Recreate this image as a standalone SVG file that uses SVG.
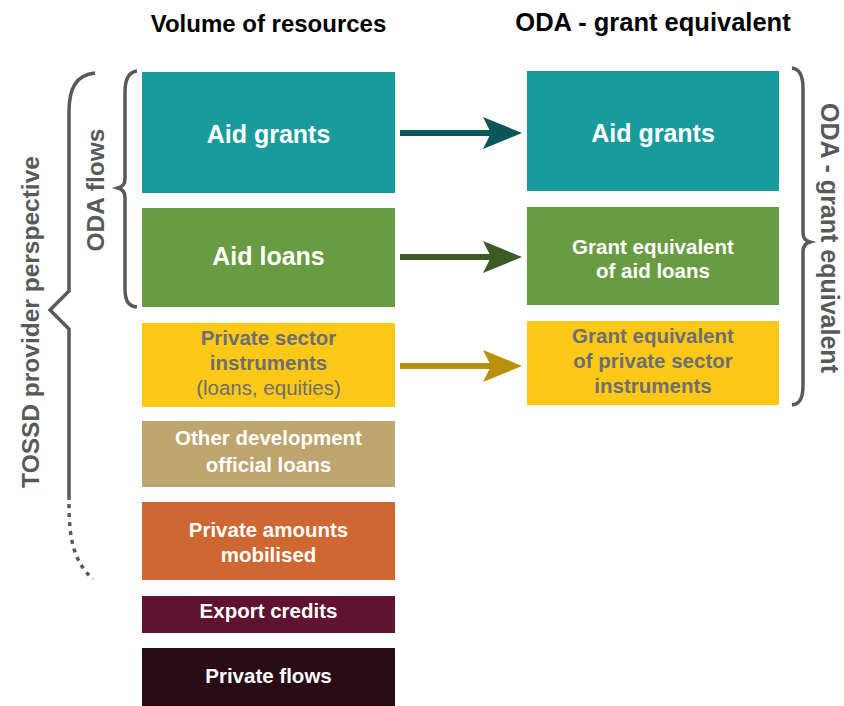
<svg xmlns="http://www.w3.org/2000/svg" width="844" height="706" viewBox="0 0 844 706">
<style>
  .hdr { font-family: "Liberation Sans", Arial, sans-serif; font-weight: bold; fill: #000; text-anchor: middle; }
  .big { font-family: "Liberation Sans", Arial, sans-serif; font-weight: bold; font-size: 25px; fill: #fff; text-anchor: middle; }
  .mid { font-family: "Liberation Sans", Arial, sans-serif; font-weight: bold; font-size: 20.5px; fill: #fff; text-anchor: middle; }
  .gray { fill: #6d6e71; }
  .reg { font-family: "Liberation Sans", Arial, sans-serif; font-weight: normal; font-size: 20.5px; fill: #6d6e71; text-anchor: middle; }
  .side { font-family: "Liberation Sans", Arial, sans-serif; font-weight: bold; fill: #58595b; text-anchor: middle; }
  .brace { fill: none; stroke: #58595b; stroke-width: 3.5; stroke-linejoin: miter; }
</style>

<text class="hdr" x="268.5" y="32" font-size="24">Volume of resources</text>
<text class="hdr" x="653" y="31" font-size="25.5">ODA - grant equivalent</text>

<g id="brace-tossd">
  <path class="brace" d="M95,73 C76,75 69,88 69,112 L69,291 L50,310 L69,329 L69,500" stroke-width="4"/>
  <path class="brace" d="M69,504 C69,540 74,562 93,579" stroke-width="4" stroke-dasharray="4,5"/>
  <text class="side" font-size="24.5" transform="translate(39,322) rotate(-90)">TOSSD provider perspective</text>
</g>

<g id="brace-oda">
  <path class="brace" d="M137,71 C128,72 125,80 125,92 L125,179 Q125,186 118,188 Q125,190 125,197 L125,288 C125,301 128,306 137,307"/>
  <text class="side" font-size="24.5" transform="translate(104,190) rotate(-90)">ODA flows</text>
</g>

<g id="brace-ge">
  <path class="brace" d="M792,68 C800,69 803,76 803,88 L803,233 Q803,240 810,242 Q803,244 803,251 L803,385 C803,398 800,404 792,405"/>
  <text class="side" font-size="25" transform="translate(821,238) rotate(90)">ODA - grant equivalent</text>
</g>

<g id="left-aid-grants">
  <rect x="142" y="72" width="253" height="121" fill="#1a9b9b"/>
  <text class="big" x="268.5" y="143">Aid grants</text>
</g>
<g id="left-aid-loans">
  <rect x="142" y="208" width="253" height="99" fill="#689b42"/>
  <text class="big" x="268.5" y="265">Aid loans</text>
</g>
<g id="left-private-sector">
  <rect x="142" y="323" width="253" height="84" fill="#fec916"/>
  <text class="mid gray" x="268.5" y="345">Private sector</text>
  <text class="mid gray" x="268.5" y="370">instruments</text>
  <text class="reg" x="268.5" y="395">(loans, equities)</text>
</g>
<g id="left-other-dev">
  <rect x="142" y="421" width="253" height="66" fill="#bea46e"/>
  <text class="mid" x="268.5" y="445">Other development</text>
  <text class="mid" x="268.5" y="472">official loans</text>
</g>
<g id="left-mobilised">
  <rect x="142" y="502" width="253" height="78" fill="#cf6733"/>
  <text class="mid" x="268.5" y="537">Private amounts</text>
  <text class="mid" x="268.5" y="562">mobilised</text>
</g>
<g id="left-export">
  <rect x="142" y="596" width="253" height="37" fill="#5f1331"/>
  <text class="mid" x="268.5" y="618">Export credits</text>
</g>
<g id="left-private-flows">
  <rect x="142" y="648" width="253" height="60" fill="#2a0c17"/>
  <text class="mid" x="268.5" y="683">Private flows</text>
</g>

<g id="right-aid-grants">
  <rect x="527" y="71" width="252" height="120" fill="#1a9b9b"/>
  <text class="big" x="653" y="142">Aid grants</text>
</g>
<g id="right-ge-loans">
  <rect x="527" y="207" width="252" height="98" fill="#689b42"/>
  <text class="mid" x="653" y="254">Grant equivalent</text>
  <text class="mid" x="653" y="278">of aid loans</text>
</g>
<g id="right-ge-psi">
  <rect x="527" y="321" width="252" height="84" fill="#fec916"/>
  <text class="mid gray" x="653" y="343">Grant equivalent</text>
  <text class="mid gray" x="653" y="368">of private sector</text>
  <text class="mid gray" x="653" y="393">instruments</text>
</g>

<g id="connectors">
  <line x1="400" y1="133" x2="492" y2="133" stroke="#0b5656" stroke-width="6"/>
  <polygon points="483,117 522,133 483,149 491,133" fill="#0b5656"/>
  <line x1="400" y1="257" x2="492" y2="257" stroke="#3b5a24" stroke-width="6"/>
  <polygon points="483,241 522,257 483,273 491,257" fill="#3b5a24"/>
  <line x1="400" y1="366" x2="492" y2="366" stroke="#b8910e" stroke-width="6"/>
  <polygon points="483,350 522,366 483,382 491,366" fill="#b8910e"/>
</g>
</svg>
